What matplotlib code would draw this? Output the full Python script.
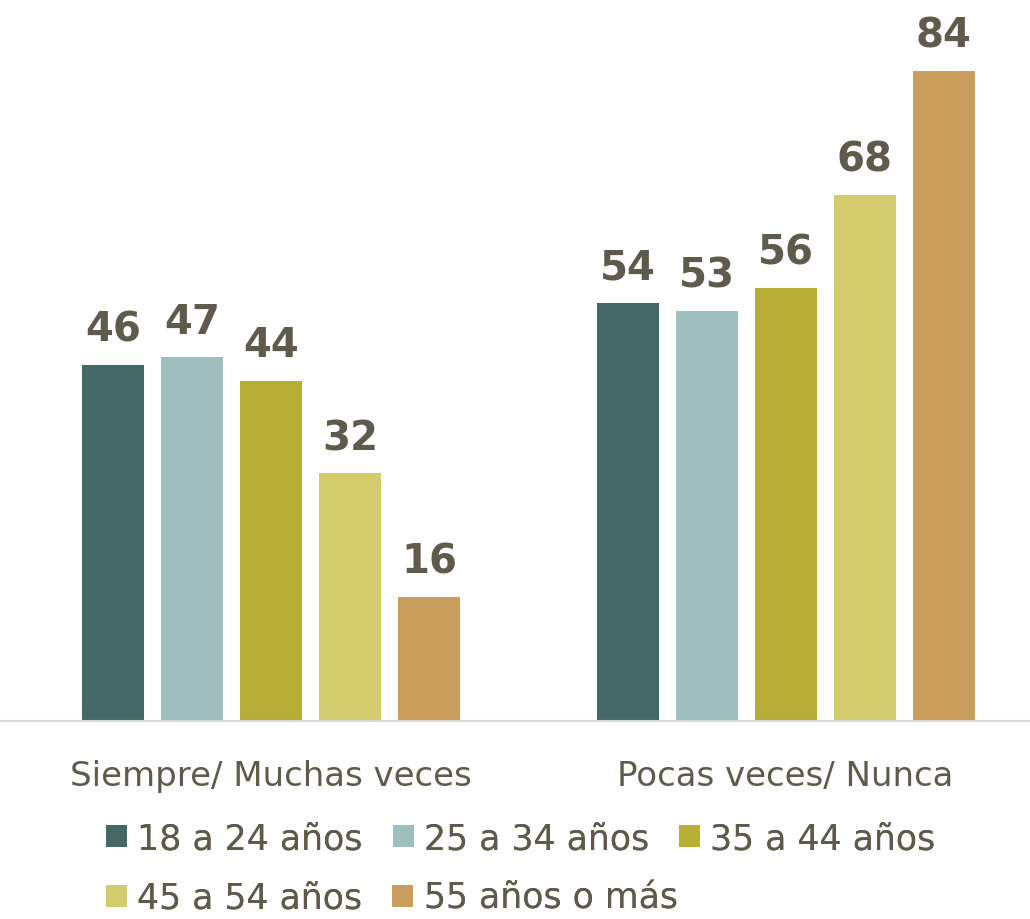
import matplotlib
matplotlib.use("Agg")
import matplotlib.pyplot as plt
import numpy as np

categories = ["Siempre/ Muchas veces", "Pocas veces/ Nunca"]
series_names = ["18 a 24 años", "25 a 34 años", "35 a 44 años", "45 a 54 años", "55 años o más"]
values = {
    "18 a 24 años": [46, 54],
    "25 a 34 años": [47, 53],
    "35 a 44 años": [44, 56],
    "45 a 54 años": [32, 68],
    "55 años o más": [16, 84],
}
colors = ["#446866", "#9FBFBE", "#B7AE38", "#D3CB6D", "#C99D5C"]

text_color = "#5E5A4C"
plt.rcParams["font.family"] = ["DejaVu Sans"]

fig = plt.figure(figsize=(10.3, 9.2), dpi=100)
ax = fig.add_axes([0.0, 0.2152, 1.0, 0.757])

bar_w = 0.1205
pitch = 0.1535
x = np.arange(len(categories))
handles = []
for i, name in enumerate(series_names):
    pos = x + (i - 2) * pitch
    bars = ax.bar(pos, values[name], width=bar_w, color=colors[i], label=name, zorder=2)
    handles.append(bars)
    for b, v in zip(bars, values[name]):
        ax.annotate(f"{v}", (b.get_x() + b.get_width() / 2, v),
                    xytext=(0, 11), textcoords="offset points",
                    ha="center", va="bottom", fontsize=29, fontweight="bold",
                    color=text_color)

ax.set_xlim(-0.5267, 1.475)
ax.set_ylim(0, 90)
for s in ["top", "right", "left"]:
    ax.spines[s].set_visible(False)
ax.spines["bottom"].set_color("#D9D9D9")
ax.spines["bottom"].set_linewidth(1.5)
ax.set_yticks([])
ax.set_xticks(x)
ax.set_xticklabels(categories, fontsize=24.5, color=text_color)
ax.tick_params(axis="x", length=0, pad=27)

# Legend laid out as two flowing rows
leg_kw = dict(loc="center left", frameon=False, fontsize=25,
              handlelength=0.6, handleheight=0.6, handletextpad=0.3,
              columnspacing=0.86, borderpad=0, borderaxespad=0)
rows = [([0, 1, 2], 0.0880), ([3, 4], 0.0230)]
for idx, ypos in rows:
    leg = fig.legend([handles[k] for k in idx], [series_names[k] for k in idx],
                     ncol=len(idx), bbox_to_anchor=(0.103, ypos), **leg_kw)
    for t in leg.get_texts():
        t.set_color(text_color)
    fig.add_artist(leg)

fig.savefig("out.png", dpi=100)
